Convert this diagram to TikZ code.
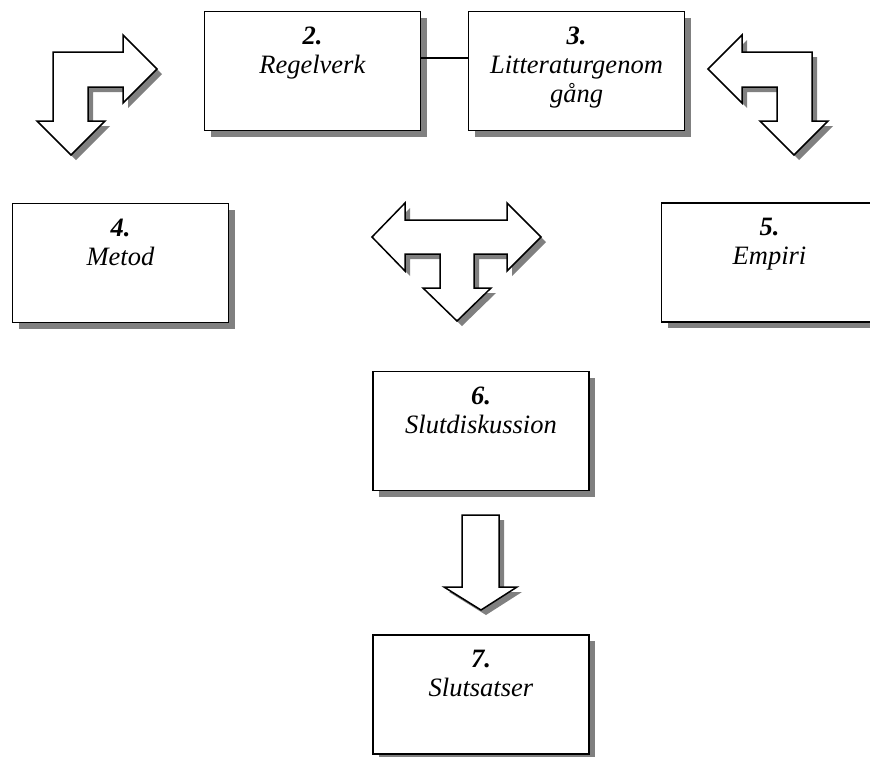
\documentclass[tikz,border=0pt]{standalone}
\usepackage{fontspec}
\setmainfont{Liberation Serif}
\usetikzlibrary{shadows}
\definecolor{shadowgray}{HTML}{808080}
\tikzset{
  castshadow/.style={drop shadow={shadow xshift=6pt, shadow yshift=-6pt, fill=shadowgray, opacity=1}},
  chapterbox/.style={draw=black, line width=1.8pt, fill=white, rectangle, inner sep=0pt,
    minimum width=216pt, minimum height=119pt, castshadow},
  chaptertext/.style={anchor=north, inner sep=0pt, align=center,
    font=\fontsize{26.5}{29}\selectfont},
  blockarrow/.style={draw=black, line width=1.5pt, fill=white, line join=miter,
    drop shadow={shadow xshift=5pt, shadow yshift=-5pt, fill=shadowgray, opacity=1}},
  joinline/.style={draw=black, line width=1.5pt}
}
\newcommand{\chapnum}[1]{\textbf{\textit{#1}}}
\begin{document}
\begin{tikzpicture}[x=1pt, y=-1pt]
  \path[use as bounding box, clip] (0,0) rectangle (870,756);

  % chapter boxes
  \node[chapterbox] (b2) at (312.5,71) {};
  \node[chapterbox] (b3) at (576.5,71) {};
  \node[chapterbox] (b4) at (120.5,263) {};
  \node[chapterbox] (b5) at (769.5,262.5) {};
  \node[chapterbox] (b6) at (481,431) {};
  \node[chapterbox] (b7) at (481,694.5) {};

  % chapter titles
  \node[chaptertext] (t2) at ([yshift=-16pt]b2.north) {\chapnum{2.}\\\textit{Regelverk}};
  \node[chaptertext] (t3) at ([yshift=-16pt]b3.north) {\chapnum{3.}\\\textit{Litteraturgenom}\\\textit{gång}};
  \node[chaptertext] (t4) at ([yshift=-16pt]b4.north) {\chapnum{4.}\\\textit{Metod}};
  \node[chaptertext] (t5) at ([yshift=-16pt]b5.north) {\chapnum{5.}\\\textit{Empiri}};
  \node[chaptertext] (t6) at ([yshift=-16pt]b6.north) {\chapnum{6.}\\\textit{Slutdiskussion}};
  \node[chaptertext] (t7) at ([yshift=-16pt]b7.north) {\chapnum{7.}\\\textit{Slutsatser}};

  % link between the two upper boxes
  \draw[joinline] ([yshift=13pt]b2.east) -- ([yshift=13pt]b3.west);

  % bent arrow, upper left
  \draw[blockarrow] (53,52) -- (123,52) -- (123,35) -- (157,69) -- (123,103) -- (123,87)
    -- (88,87) -- (88,121) -- (105,121) -- (71,155) -- (37,121) -- (53,121) -- cycle;

  % bent arrow, upper right
  \draw[blockarrow] (812,52) -- (742,52) -- (742,35) -- (708,69) -- (742,103) -- (742,87)
    -- (777,87) -- (777,121) -- (760,121) -- (794,155) -- (828,121) -- (812,121) -- cycle;

  % three-way arrow in the middle
  \draw[blockarrow] (372,237) -- (405,203) -- (405,220) -- (507,220) -- (507,203)
    -- (541,237) -- (507,271) -- (507,254) -- (474,254) -- (474,288) -- (491,288)
    -- (457,321) -- (423,288) -- (440,288) -- (440,254) -- (405,254) -- (405,271) -- cycle;

  % down arrow between 6 and 7
  \draw[blockarrow] (462,515) -- (499,515) -- (499,587) -- (517,587) -- (481,610)
    -- (444,587) -- (462,587) -- cycle;
\end{tikzpicture}
\end{document}
